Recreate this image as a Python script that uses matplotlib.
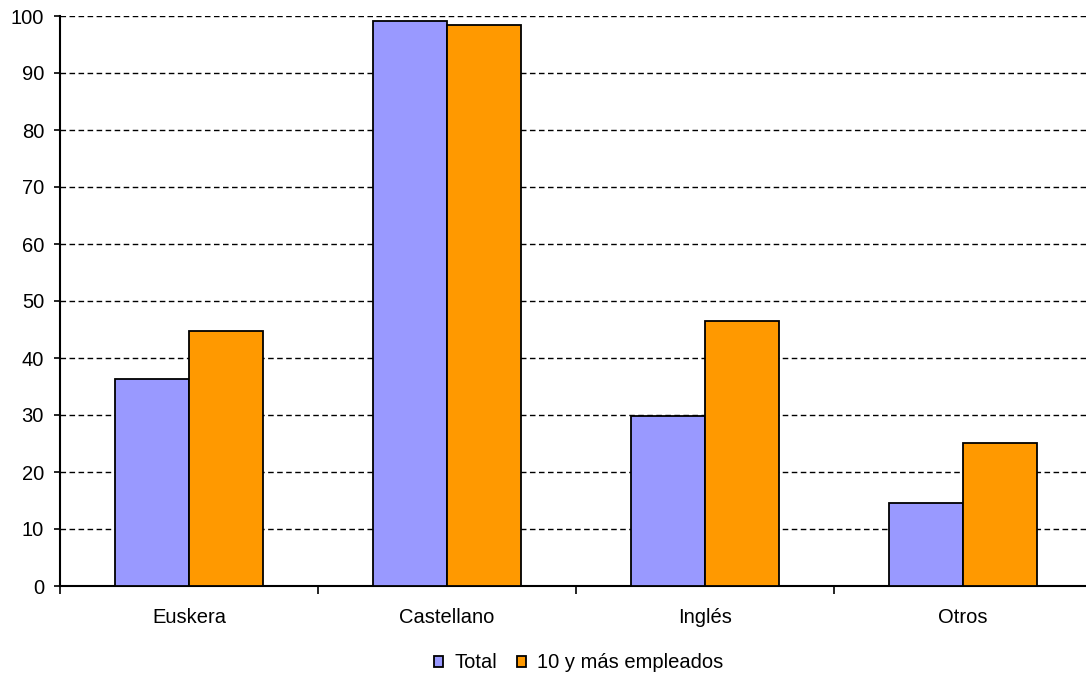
import numpy as np
import matplotlib.pyplot as plt
from matplotlib.patches import Patch

plt.rcParams['font.family'] = ['Liberation Sans', 'DejaVu Sans']

categories = ['Euskera', 'Castellano', 'Inglés', 'Otros']
total = [36.4, 99.1, 29.9, 14.6]
grandes = [44.7, 98.5, 46.5, 25.1]
series_names = ['Total', '10 y más empleados']

fig = plt.figure(figsize=(10.86, 6.77), dpi=100)
ax = fig.add_axes([60 / 1086, 1 - 586 / 677, 1032 / 1086, 570 / 677])

x = np.arange(len(categories))
w = 0.287
ax.bar(x - w / 2, total, w, color='#9999ff', edgecolor='black', linewidth=1.3, zorder=3)
ax.bar(x + w / 2, grandes, w, color='#ff9900', edgecolor='black', linewidth=1.3, zorder=3)

ax.set_xlim(-0.5, len(categories) - 0.5)
ax.set_ylim(0, 100)
ax.set_yticks(range(0, 101, 10))
ax.yaxis.grid(True, linestyle=(0, (4, 2.5)), color='black', linewidth=1)
ax.set_axisbelow(True)

ax.set_xticks(x)
ax.set_xticklabels(categories, fontsize=14.5)
ax.tick_params(axis='x', length=0, pad=16)
ax.set_xticks(np.arange(-0.5, len(categories)), minor=True)
ax.tick_params(axis='x', which='minor', length=6, width=1.2, direction='out')
ax.tick_params(axis='y', labelsize=14.5, length=4.5, width=1.2, direction='out', pad=7)

for s in ['top', 'right']:
    ax.spines[s].set_visible(False)
for s in ['left', 'bottom']:
    ax.spines[s].set_linewidth(1.5)

handles = [Patch(facecolor='#9999ff', edgecolor='black', linewidth=1.3),
           Patch(facecolor='#ff9900', edgecolor='black', linewidth=1.3)]
fig.legend(handles, series_names, loc='center', bbox_to_anchor=(579 / 1086, 1 - 663 / 677),
           ncol=2, frameon=False, fontsize=14.5, handlelength=0.45, handleheight=0.45,
           handletextpad=0.55, columnspacing=1.0, borderpad=0)

fig.savefig('out.png', dpi=100)
